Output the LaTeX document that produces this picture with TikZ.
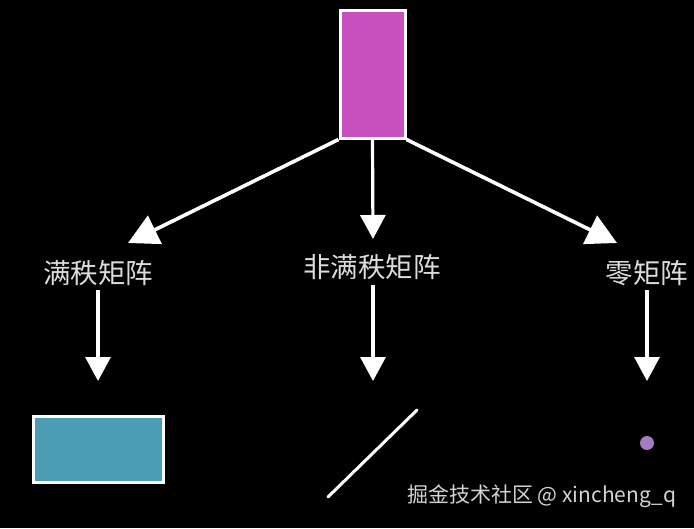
\documentclass[tikz,border=0pt]{standalone}
\usepackage{fontspec}
\newfontfamily\cjk{Noto Sans CJK SC}
\usetikzlibrary{arrows.meta}
\definecolor{magbox}{HTML}{C850BE}
\definecolor{tealbox}{HTML}{4B9DB3}
\definecolor{dotc}{HTML}{A57BC3}
\definecolor{lbl}{HTML}{DCDCDC}
\definecolor{wm}{HTML}{D4D4D4}
\tikzset{
  boxw/.style={draw=white, line width=3pt, inner sep=0pt},
  lab/.style={text=lbl, font=\cjk\fontsize{27.5}{30}\selectfont, inner sep=0pt},
  bigarr/.style={draw=white, line width=3.6pt, -{Triangle[length=30pt,width=31pt]}},
  smallarr/.style={draw=white, line width=3.2pt, -{Triangle[length=24pt,width=25pt]}},
}
\begin{document}
\begin{tikzpicture}[x=1pt,y=-1pt]
\fill[black] (0,0) rectangle (694,528);
\useasboundingbox (0,0) rectangle (694,528);
% top box
\node[boxw, fill=magbox, minimum width=65pt, minimum height=128pt] (top) at (372.5,74) {};
% labels
\node[lab] (l1) at (98,273) {满秩矩阵};
\node[lab] (l2) at (372,267) {非满秩矩阵};
\node[lab] (l3) at (647,273) {零矩阵};
% arrow end coordinates
\coordinate (t1) at (128,243);
\coordinate (t2) at (373,239);
\coordinate (t3) at (617,243);
\draw[bigarr] (top.south west) -- (t1);
\draw[smallarr] (top.south) -- (t2);
\draw[bigarr] (top.south east) -- (t3);
% down arrows
\coordinate (d1s) at (98,290);
\coordinate (d1e) at (98,381);
\coordinate (d2s) at (373,285);
\coordinate (d2e) at (373,381);
\coordinate (d3s) at (647,290);
\coordinate (d3e) at (647,381);
\draw[smallarr] (d1s) -- (d1e);
\draw[smallarr] (d2s) -- (d2e);
\draw[smallarr] (d3s) -- (d3e);
% results
\node[boxw, fill=tealbox, minimum width=130pt, minimum height=66pt] (full) at (98.5,449.5) {};
\coordinate (ls) at (328,497);
\coordinate (le) at (417,410);
\draw[white, line width=3pt, line cap=round] (ls) -- (le);
\node[circle, fill=dotc, minimum size=14pt, inner sep=0pt] (zero) at (647,443) {};
% watermark
\node[text=wm, font=\cjk\fontsize{21}{23}\selectfont, inner sep=0pt, anchor=west] (wmk) at (407,496) {掘金技术社区 @ xincheng\_q};
\end{tikzpicture}
\end{document}
